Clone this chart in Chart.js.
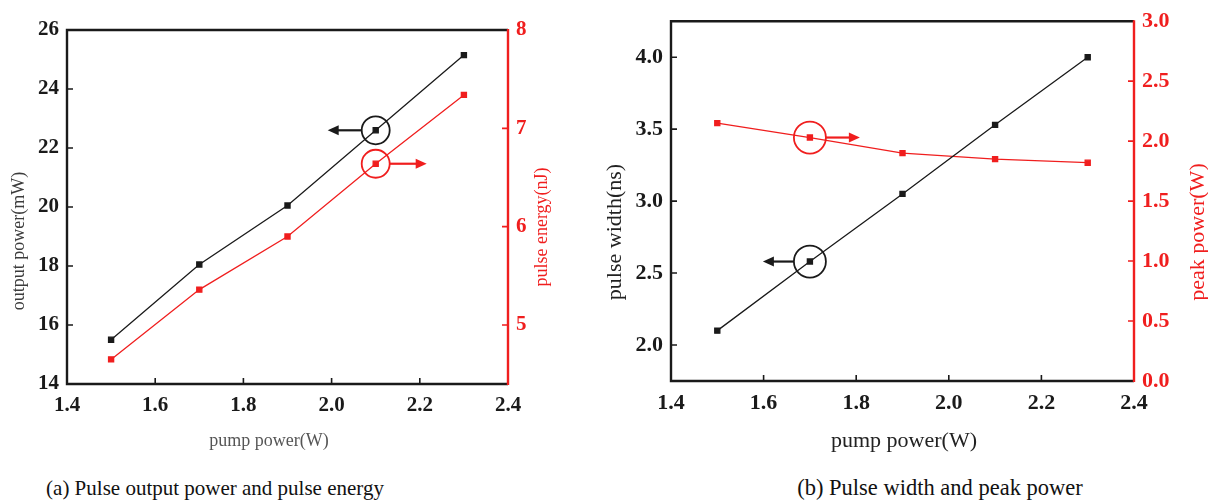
<!DOCTYPE html>
<html>
<head>
<meta charset="utf-8">
<script src="https://cdn.jsdelivr.net/npm/chart.js@4.4.1/dist/chart.umd.min.js"></script>
<style>
  body { margin: 0; background: #fff; width: 1208px; height: 503px; overflow: hidden; position: relative; font-family: 'Liberation Serif', serif; }
  .box { position: absolute; top: 0; height: 460px; }
  #boxA { left: 0; width: 600px; }
  #boxB { left: 600px; width: 608px; }
  .cap { position: absolute; line-height: 1; color: #111; white-space: nowrap; transform: translateX(-50%); font-family: 'Liberation Serif', serif; }
</style>
</head>
<body>
<div class="box" id="boxA"><canvas id="chartA"></canvas></div>
<div class="box" id="boxB"><canvas id="chartB"></canvas></div>
<div class="cap" style="left:215px;top:478px;font-size:21px">(a) Pulse output power and pulse energy</div>
<div class="cap" style="left:940px;top:477px;font-size:22.5px">(b) Pulse width and peak power</div>
<script>
// data
const pumpPower = [1.5, 1.7, 1.9, 2.1, 2.3];
const outputPower = [15.5, 18.05, 20.05, 22.6, 25.15];
const pulseEnergy = [4.65, 5.36, 5.9, 6.64, 7.34];
const pulseWidth = [2.1, 2.58, 3.05, 3.53, 4.0];
const peakPower = [2.15, 2.03, 1.9, 1.85, 1.82];

const pumpTicks = [1.4, 1.6, 1.8, 2.0, 2.2, 2.4];
const outputTicks = [14, 16, 18, 20, 22, 24, 26];
const energyTicks = [5, 6, 7, 8];
const widthTicks = [2.0, 2.5, 3.0, 3.5, 4.0];
const peakTicks = [0, 0.5, 1.0, 1.5, 2.0, 2.5, 3.0];

const BLACK = '#1a1a1a';
const RED = '#f01e1e';
const SERIF = "'Liberation Serif', 'DejaVu Serif', serif";

function pairs(ys) {
  return pumpPower.map(function (x, i) { return { x: x, y: ys[i] }; });
}
function fixTicks(list) {
  return function (scale) { scale.ticks = list.map(function (v) { return { value: v }; }); };
}
function fixSize(prop, size) {
  return function (scale) { scale[prop] = size; };
}

/* frame, inward ticks, circled arrows, axis titles */
const framePlugin = {
  id: 'frame',
  afterDatasetsDraw(chart, args, opts) {
    const ctx = chart.ctx;
    const { left, right, top, bottom } = chart.chartArea;
    const sx = chart.scales.x, sy = chart.scales.y, sy1 = chart.scales.y1;
    ctx.save();
    ctx.lineWidth = 1.6;
    ctx.strokeStyle = BLACK;
    ctx.beginPath();
    sx.ticks.forEach(function (t) {
      const px = sx.getPixelForValue(t.value);
      ctx.moveTo(px, bottom); ctx.lineTo(px, bottom - 6);
    });
    sy.ticks.forEach(function (t) {
      const py = sy.getPixelForValue(t.value);
      ctx.moveTo(left, py); ctx.lineTo(left + 6, py);
    });
    ctx.stroke();
    ctx.strokeStyle = RED;
    ctx.beginPath();
    sy1.ticks.forEach(function (t) {
      const py = sy1.getPixelForValue(t.value);
      ctx.moveTo(right, py); ctx.lineTo(right - 6, py);
    });
    ctx.stroke();

    // box
    ctx.lineWidth = 2.4;
    ctx.strokeStyle = BLACK;
    ctx.beginPath();
    ctx.moveTo(right, top); ctx.lineTo(left, top); ctx.lineTo(left, bottom); ctx.lineTo(right, bottom);
    ctx.stroke();
    ctx.strokeStyle = RED;
    ctx.beginPath();
    ctx.moveTo(right, top - 1); ctx.lineTo(right, bottom + 1);
    ctx.stroke();

    // circles with arrows
    opts.marks.forEach(function (m) {
      const ds = chart.data.datasets[m.dataset];
      const pt = ds.data[m.index];
      const cx = sx.getPixelForValue(pt.x);
      const cy = chart.scales[ds.yAxisID].getPixelForValue(pt.y);
      const col = ds.borderColor;
      ctx.strokeStyle = col;
      ctx.fillStyle = col;
      ctx.lineWidth = 1.8;
      ctx.beginPath();
      ctx.arc(cx, cy, m.r, 0, Math.PI * 2);
      ctx.stroke();
      const x0 = cx + m.dir * m.r;
      const x1 = x0 + m.dir * m.len;
      ctx.lineWidth = 2.2;
      ctx.beginPath();
      ctx.moveTo(x0, cy); ctx.lineTo(x1 - m.dir * 8, cy);
      ctx.stroke();
      ctx.beginPath();
      ctx.moveTo(x1, cy);
      ctx.lineTo(x1 - m.dir * 11, cy - 5);
      ctx.lineTo(x1 - m.dir * 11, cy + 5);
      ctx.closePath();
      ctx.fill();
    });

    // axis titles
    opts.titles.forEach(function (t) {
      ctx.save();
      ctx.translate(t.x, t.y);
      if (t.rot) ctx.rotate(-Math.PI / 2);
      ctx.font = t.size + 'px ' + SERIF;
      ctx.fillStyle = t.color;
      ctx.textAlign = 'center';
      ctx.textBaseline = 'middle';
      ctx.fillText(t.text, 0, 0);
      ctx.restore();
    });
    ctx.restore();
  }
};

function lineSet(label, ys, color, axis) {
  return {
    label: label,
    data: pairs(ys),
    yAxisID: axis,
    borderColor: color,
    backgroundColor: color,
    borderWidth: 1.3,
    pointStyle: 'rect',
    pointRadius: 3.6,
    pointHoverRadius: 3.6,
  };
}

function makeChart(id, cfg) {
  const tickFont = { family: SERIF, size: cfg.tickSize, weight: 'bold' };
  return new Chart(document.getElementById(id), {
    type: 'line',
    data: { datasets: cfg.datasets },
    options: {
      responsive: true,
      maintainAspectRatio: false,
      animation: false,
      layout: { padding: { top: cfg.top, left: 0, right: 0, bottom: 0 } },
      plugins: {
        legend: { display: false },
        tooltip: { enabled: false },
        frame: { marks: cfg.marks, titles: cfg.titles },
      },
      scales: {
        x: {
          type: 'linear',
          min: 1.4,
          max: 2.4,
          afterBuildTicks: fixTicks(pumpTicks),
          afterFit: fixSize('height', cfg.xHeight),
          grid: { display: false, drawTicks: false },
          border: { display: false },
          ticks: { font: tickFont, color: BLACK, padding: 9, maxRotation: 0, callback: function (v) { return v.toFixed(1); } },
        },
        y: {
          position: 'left',
          min: cfg.yRange[0],
          max: cfg.yRange[1],
          afterBuildTicks: fixTicks(cfg.yTicks),
          afterFit: fixSize('width', cfg.yWidth),
          grid: { display: false, drawTicks: false },
          border: { display: false },
          ticks: { font: tickFont, color: BLACK, padding: 8, callback: cfg.yFmt },
        },
        y1: {
          position: 'right',
          min: cfg.y1Range[0],
          max: cfg.y1Range[1],
          afterBuildTicks: fixTicks(cfg.y1Ticks),
          afterFit: fixSize('width', cfg.y1Width),
          grid: { display: false, drawTicks: false },
          border: { display: false },
          ticks: { font: tickFont, color: RED, padding: 8, callback: cfg.y1Fmt },
        },
      },
    },
    plugins: [framePlugin],
  });
}

const chartA = makeChart('chartA', {
  datasets: [
    lineSet('output power', outputPower, BLACK, 'y'),
    lineSet('pulse energy', pulseEnergy, RED, 'y1'),
  ],
  top: 30, xHeight: 76, yWidth: 67, y1Width: 92, tickSize: 21,
  yRange: [14, 26], yTicks: outputTicks, yFmt: function (v) { return v.toFixed(0); },
  y1Range: [4.4, 8], y1Ticks: energyTicks, y1Fmt: function (v) { return v.toFixed(0); },
  marks: [
    { dataset: 0, index: 3, r: 14, dir: -1, len: 34 },
    { dataset: 1, index: 3, r: 14, dir: 1, len: 37 },
  ],
  titles: [
    { text: 'output power(mW)', x: 19, y: 241, rot: true, size: 18, color: '#3c3c3c' },
    { text: 'pulse energy(nJ)', x: 542, y: 227, rot: true, size: 18, color: RED },
    { text: 'pump power(W)', x: 269, y: 441, rot: false, size: 18, color: '#555' },
  ],
});

const chartB = makeChart('chartB', {
  datasets: [
    lineSet('pulse width', pulseWidth, BLACK, 'y'),
    lineSet('peak power', peakPower, RED, 'y1'),
  ],
  top: 21, xHeight: 79, yWidth: 71, y1Width: 74, tickSize: 22,
  yRange: [1.75, 4.25], yTicks: widthTicks, yFmt: function (v) { return v.toFixed(1); },
  y1Range: [0, 3], y1Ticks: peakTicks, y1Fmt: function (v) { return v.toFixed(1); },
  marks: [
    { dataset: 1, index: 1, r: 16, dir: 1, len: 34 },
    { dataset: 0, index: 1, r: 16, dir: -1, len: 31 },
  ],
  titles: [
    { text: 'pulse width(ns)', x: 15, y: 232, rot: true, size: 22, color: '#222' },
    { text: 'peak power(W)', x: 598, y: 232, rot: true, size: 22, color: RED },
    { text: 'pump power(W)', x: 304, y: 441, rot: false, size: 22, color: '#222' },
  ],
});
</script>
</body>
</html>
